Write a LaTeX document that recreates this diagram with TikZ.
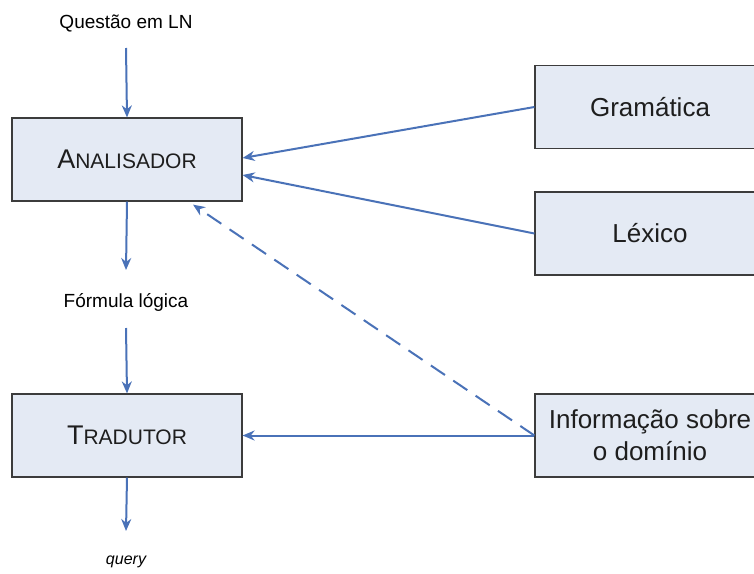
\documentclass[tikz,border=0pt]{standalone}
\usepackage{fontspec}
\setmainfont{Liberation Sans}
\usetikzlibrary{arrows.meta}
\definecolor{flowblue}{RGB}{74,114,184}
\definecolor{boxfill}{RGB}{228,234,244}
\definecolor{boxline}{RGB}{60,60,60}
\definecolor{inktext}{RGB}{30,30,30}
\newcommand{\bigsc}[2]{{\fontsize{27}{27}\selectfont #1}{\fontsize{21}{21}\selectfont #2}}
\tikzset{
  procbox/.style={draw=boxline, line width=1.2pt, fill=boxfill, rectangle,
    minimum width=230pt, minimum height=83pt, inner sep=0pt,
    text=inktext, font=\fontsize{26}{32}\selectfont, align=center},
  flowlabel/.style={text=black, font=\fontsize{19}{22}\selectfont, inner sep=0pt},
  flow/.style={draw=flowblue, line width=2pt, -{Stealth[length=12pt,width=10pt]}},
  flowdash/.style={flow, dash pattern=on 17pt off 10pt}
}
\begin{document}
\begin{tikzpicture}[x=1pt, y=-1pt]
  \useasboundingbox (0,0) rectangle (754,573);
  \clip (0,0) rectangle (754,573);
  \fill[white] (0,0) rectangle (754,573);

  % processing stages on the left
  \node[procbox] (ana) at (127,159.5) {\bigsc{A}{NALISADOR}};
  \node[procbox] (trad) at (127,435.5) {\bigsc{T}{RADUTOR}};

  % knowledge sources on the right
  \node[procbox] (gram) at (650,107) {Gramática};
  \node[procbox] (lex) at (650,233.5) {Léxico};
  \node[procbox] (info) at (650,435.5) {Informação sobre\\o domínio};

  % data labels along the main pipeline
  \node[flowlabel] (q) at (126,23) {Questão em LN};
  \node[flowlabel] (f) at (126,302) {Fórmula lógica};
  \node[flowlabel, font=\fontsize{16}{18}\selectfont\itshape] (out) at (126,562) {query};

  \coordinate (qend) at (126,48);
  \coordinate (anaout) at (126,270);
  \coordinate (fend) at (126,328);
  \coordinate (tradout) at (126,531);

  % main pipeline
  \draw[flow] (qend) -- (ana.north);
  \draw[flow] (ana.south) -- (anaout);
  \draw[flow] (fend) -- (trad.north);
  \draw[flow] (trad.south) -- (tradout);

  % inputs from the knowledge sources
  \draw[flow] (gram.west) -- ([yshift=1.5pt]ana.east);
  \draw[flow] (lex.west) -- ([yshift=-15.5pt]ana.east);
  \draw[flow] (info.west) -- (trad.east);
  \draw[flowdash] (info.west) -- ([xshift=66pt,yshift=-3pt]ana.south);
\end{tikzpicture}
\end{document}
